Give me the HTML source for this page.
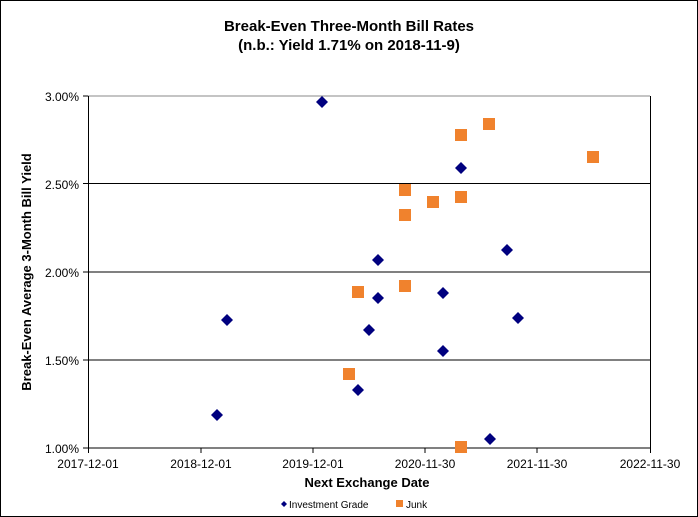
<!DOCTYPE html><html><head><style>body{margin:0;background:#fff}svg{display:block}text{font-family:"Liberation Sans",sans-serif}</style></head><body>
<svg width="698" height="517" viewBox="0 0 698 517">
<rect x="0.5" y="0.5" width="697" height="516" fill="#fff" stroke="#000"/>
<text x="349" y="31" text-anchor="middle" font-size="15" font-weight="bold">Break-Even Three-Month Bill Rates</text>
<text x="349" y="50" text-anchor="middle" font-size="15" font-weight="bold">(n.b.: Yield 1.71% on 2018-11-9)</text>
<g stroke="#000" stroke-width="1">
<line x1="88" y1="96" x2="650" y2="96" stroke="#888"/>
<line x1="83" y1="183.5" x2="650" y2="183.5"/>
<line x1="83" y1="272" x2="650" y2="272"/>
<line x1="83" y1="360" x2="650" y2="360"/>
<line x1="83" y1="448" x2="650" y2="448"/>
<line x1="83" y1="96" x2="88" y2="96"/>
<line x1="88.5" y1="96" x2="88.5" y2="448"/>
<line x1="650.5" y1="96" x2="650.5" y2="453"/>
<line x1="88.5" y1="448" x2="88.5" y2="453"/>
<line x1="201" y1="448" x2="201" y2="453"/>
<line x1="313" y1="448" x2="313" y2="453"/>
<line x1="425" y1="448" x2="425" y2="453"/>
<line x1="537" y1="448" x2="537" y2="453"/>
</g>
<g font-size="12" text-anchor="end">
<text x="79" y="101">3.00%</text><text x="79" y="189">2.50%</text><text x="79" y="277">2.00%</text><text x="79" y="365">1.50%</text><text x="79" y="453">1.00%</text>
</g>
<g font-size="12" text-anchor="middle">
<text x="88" y="468">2017-12-01</text><text x="201" y="468">2018-12-01</text><text x="313" y="468">2019-12-01</text><text x="425" y="468">2020-11-30</text><text x="537" y="468">2021-11-30</text><text x="650" y="468">2022-11-30</text>
</g>
<text x="367" y="487" text-anchor="middle" font-size="13" font-weight="bold">Next Exchange Date</text>
<text transform="translate(31,272) rotate(-90)" text-anchor="middle" font-size="13" font-weight="bold">Break-Even Average 3-Month Bill Yield</text>
<g fill="#F0822D">
<rect x="483" y="118" width="12" height="12"/><rect x="455" y="129" width="12" height="12"/><rect x="587" y="151" width="12" height="12"/><rect x="399" y="184" width="12" height="12"/><rect x="427" y="196" width="12" height="12"/><rect x="455" y="191" width="12" height="12"/><rect x="399" y="209" width="12" height="12"/><rect x="352" y="286" width="12" height="12"/><rect x="399" y="280" width="12" height="12"/><rect x="343" y="368" width="12" height="12"/><rect x="455" y="441" width="12" height="12"/>
</g>
<g fill="#00007F">
<path id="d" d="M0,-6L6,0L0,6L-6,0Z" transform="translate(322,102)"/>
<path d="M0,-6L6,0L0,6L-6,0Z" transform="translate(461,168)"/>
<path d="M0,-6L6,0L0,6L-6,0Z" transform="translate(507,250)"/>
<path d="M0,-6L6,0L0,6L-6,0Z" transform="translate(378,260)"/>
<path d="M0,-6L6,0L0,6L-6,0Z" transform="translate(378,298)"/>
<path d="M0,-6L6,0L0,6L-6,0Z" transform="translate(443,293)"/>
<path d="M0,-6L6,0L0,6L-6,0Z" transform="translate(227,320)"/>
<path d="M0,-6L6,0L0,6L-6,0Z" transform="translate(369,330)"/>
<path d="M0,-6L6,0L0,6L-6,0Z" transform="translate(518,318)"/>
<path d="M0,-6L6,0L0,6L-6,0Z" transform="translate(443,351)"/>
<path d="M0,-6L6,0L0,6L-6,0Z" transform="translate(358,390)"/>
<path d="M0,-6L6,0L0,6L-6,0Z" transform="translate(217,415)"/>
<path d="M0,-6L6,0L0,6L-6,0Z" transform="translate(490,439)"/>
<path d="M0,-3L3,0L0,3L-3,0Z" transform="translate(284,504)"/>
</g>
<rect x="396" y="500" width="7" height="7" fill="#F0822D"/>
<g font-size="10"><text x="289" y="508">Investment Grade</text><text x="406" y="508">Junk</text></g>
</svg></body></html>
